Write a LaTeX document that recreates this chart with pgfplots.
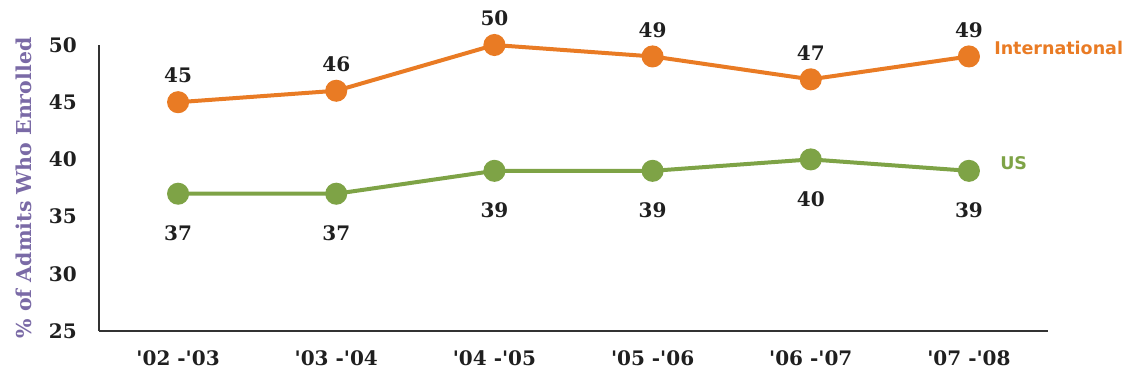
\documentclass[border=0pt]{standalone}
\usepackage{pgfplots}
\pgfplotsset{compat=1.18}
\usepackage{fontspec}
\setmainfont{DejaVu Serif}
\newfontfamily\labfont{DejaVu Sans}
\definecolor{intl}{HTML}{E97B24}
\definecolor{usg}{HTML}{7EA346}
\definecolor{ylab}{HTML}{7A6AA6}
\definecolor{axc}{HTML}{333333}
\newcommand{\q}{\textquotesingle}
\begin{document}
\begin{tikzpicture}
\begin{axis}[
  scale only axis, width=949pt, height=286pt,
  xmin=-0.5, xmax=5.5, ymin=25, ymax=50,
  axis x line*=bottom, axis y line*=left,
  axis line style={axc, line width=1.8pt, -},
  xtick={0,...,5},
  xticklabels={{\q02 -\q03},{\q03 -\q04},{\q04 -\q05},{\q05 -\q06},{\q06 -\q07},{\q07 -\q08}},
  ytick={25,30,...,50},
  major tick length=0pt,
  /pgf/number format/assume math mode=true,
  ticklabel style={font=\fontsize{20}{24}\selectfont\bfseries, text=black!88},
  xticklabel style={anchor=north, inner sep=0pt, yshift=-19pt},
  yticklabel style={anchor=east, inner sep=0pt, xshift=-22pt},
  ylabel={\% of Admits Who Enrolled},
  ylabel style={at={(axis description cs:-0.079,0.5)}, anchor=center, font=\fontsize{20.5}{24}\selectfont\bfseries, text=ylab},
  clip=false,
  every axis plot/.append style={line width=4pt, mark=*, mark size=9pt, mark options={solid}},
  nodes near coords,
  every node near coord/.append style={font=\fontsize{20}{24}\selectfont\bfseries, text=black!88, inner sep=0pt},
]
\addplot[color=intl, every node near coord/.append style={anchor=south, yshift=17pt}]
  coordinates {(0,45) (1,46) (2,50) (3,49) (4,47) (5,49)}
  node[pos=1, anchor=west, xshift=20pt, yshift=8pt, text=intl, font=\labfont\fontsize{17.5}{20}\selectfont\bfseries] {International};
\addplot[color=usg, every node near coord/.append style={anchor=north, yshift=-30pt}]
  coordinates {(0,37) (1,37) (2,39) (3,39) (4,40) (5,39)}
  node[pos=1, anchor=west, xshift=26pt, yshift=8pt, text=usg, font=\labfont\fontsize{17.5}{20}\selectfont\bfseries] {US};
\end{axis}
\pgfresetboundingbox
\useasboundingbox (current axis.south west) ++(-99pt,-52pt) rectangle ++(1123pt,383pt);
\end{tikzpicture}
\end{document}
